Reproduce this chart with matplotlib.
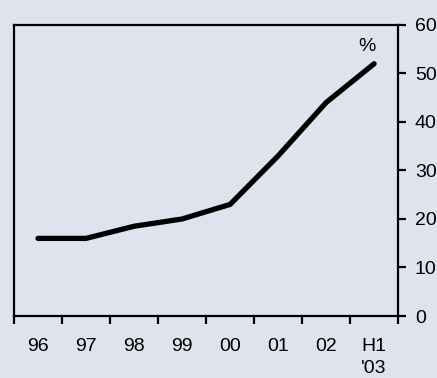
import matplotlib.pyplot as plt
import numpy as np

plt.rcParams['font.family'] = ['Liberation Sans', 'DejaVu Sans']

# share of total, per cent
periods = ['96', '97', '98', '99', '00', '01', '02', "H1\n'03"]
share = [16, 16, 18.5, 20, 23, 33, 44, 52]

bg = '#dfe3ee'
fig = plt.figure(figsize=(4.37, 3.78), dpi=100, facecolor=bg)
ax = fig.add_axes([0.032, 0.164, 0.879, 0.770], facecolor=bg)

x = np.arange(len(periods))
ax.plot(x, share, color='black', lw=3.8, solid_capstyle='round', solid_joinstyle='round')

ax.set_xlim(-0.5, len(periods) - 0.5)
ax.set_ylim(0, 60)

for s in ax.spines.values():
    s.set_linewidth(1.6)

ax.set_xticks(x)
ax.set_xticklabels(periods, fontsize=14, linespacing=1.4, va='top')
ax.set_xticks(np.arange(len(periods) + 1) - 0.5, minor=True)
ax.tick_params(axis='x', which='major', length=0, pad=16)
ax.tick_params(axis='x', which='minor', length=6, width=1.6, direction='out')

ax.yaxis.tick_right()
ax.set_yticks(range(0, 61, 10))
ax.tick_params(axis='y', length=6, width=1.6, direction='out', labelsize=14, pad=6)

ax.text(0.92, 0.925, '%', transform=ax.transAxes, fontsize=14, ha='center', va='center')

fig.savefig('out.png', dpi=100, facecolor=bg)
